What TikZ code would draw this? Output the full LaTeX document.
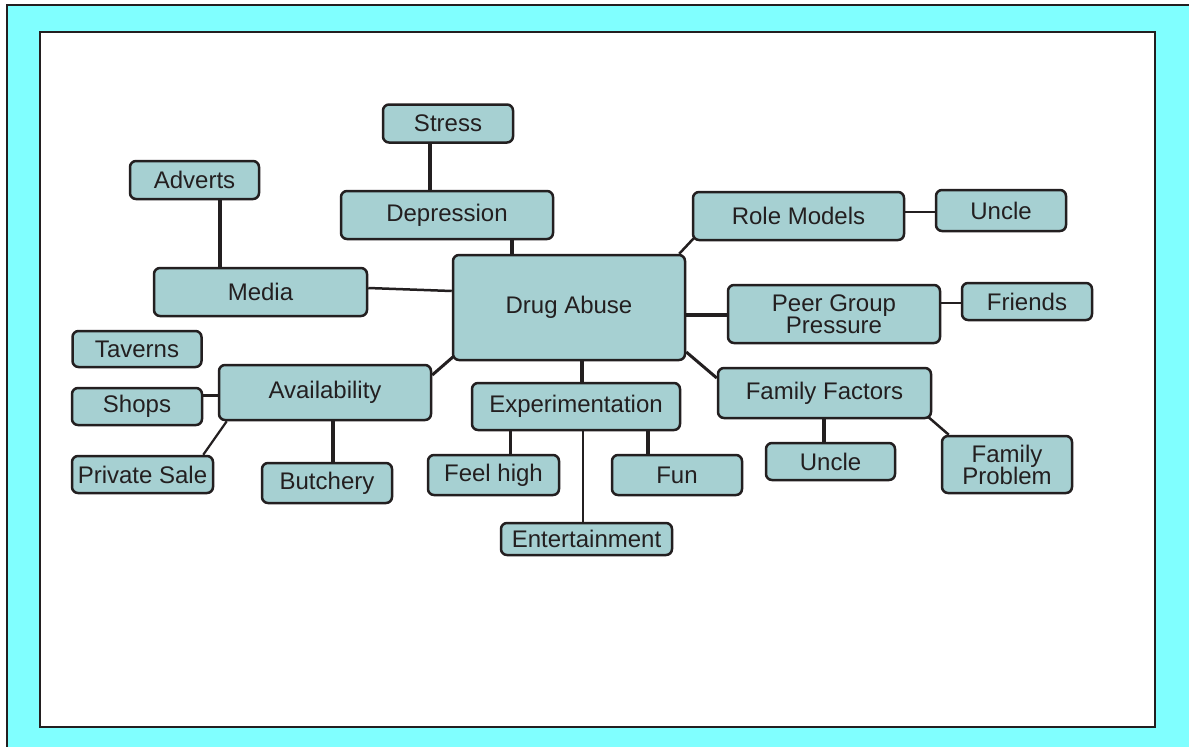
\documentclass[tikz,border=0pt]{standalone}
\usepackage{fontspec}
\setmainfont{Liberation Sans}
\pgfdeclarelayer{frame}
\pgfdeclarelayer{edges}
\pgfsetlayers{frame,edges,main}

\definecolor{boxfill}{RGB}{166,208,210}
\definecolor{ink}{RGB}{35,31,32}
\definecolor{sky}{RGB}{128,255,255}

\tikzset{
  concept/.style={draw=ink, fill=boxfill, line width=2.5pt, rounded corners=6pt,
    inner sep=0pt, text=ink, align=center, font=\fontsize{24}{23}\selectfont},
  link/.style={draw=ink, line width=2.5pt},
  boldlink/.style={draw=ink, line width=4.6pt},
}

\begin{document}
\begin{tikzpicture}[x=1pt,y=-1pt]
\useasboundingbox (0,0) rectangle (1189,747);

% page frame
\begin{pgfonlayer}{frame}
  \fill[white] (0,0) rectangle (1189,747);
  \draw[ink, line width=1.5pt, fill=sky] (7,5) rectangle (1210,770);
  \draw[ink, line width=2pt, fill=white] (40,32) rectangle (1155,727);
\end{pgfonlayer}

% concepts
\node[concept, minimum width=232, minimum height=105] (drug) at (569,307.5) {Drug Abuse};
\node[concept, minimum width=130, minimum height=38] (stress) at (448,123.5) {Stress};
\node[concept, minimum width=212, minimum height=48] (depression) at (447,215) {Depression};
\node[concept, minimum width=129, minimum height=38] (adverts) at (194.5,180) {Adverts};
\node[concept, minimum width=213, minimum height=48] (media) at (260.5,292) {Media};
\node[concept, minimum width=129, minimum height=36] (taverns) at (137,349) {Taverns};
\node[concept, minimum width=130, minimum height=37] (shops) at (137,406.5) {Shops};
\node[concept, minimum width=212, minimum height=55] (avail) at (325,392.5) {Availability};
\node[concept, minimum width=141, minimum height=37] (private) at (142.5,474.5) {Private Sale};
\node[concept, minimum width=130, minimum height=40] (butchery) at (327,483) {Butchery};
\node[concept, minimum width=208, minimum height=47] (exper) at (576,406.5) {Experimentation};
\node[concept, minimum width=131, minimum height=40] (feelhigh) at (493.5,475) {Feel high};
\node[concept, minimum width=130, minimum height=40] (fun) at (677,475) {Fun};
\node[concept, minimum width=171, minimum height=32] (entertain) at (586.5,539) {Entertainment};
\node[concept, minimum width=211, minimum height=48] (role) at (798.5,216) {Role Models};
\node[concept, minimum width=130, minimum height=41] (uncleA) at (1001,210.5) {Uncle};
\node[concept, minimum width=212, minimum height=58] (peer) at (834,314) {Peer Group\\[-1pt]Pressure};
\node[concept, minimum width=130, minimum height=37] (friends) at (1027,301.5) {Friends};
\node[concept, minimum width=213, minimum height=50] (family) at (824.5,393) {Family Factors};
\node[concept, minimum width=129, minimum height=37] (uncleB) at (830.5,461.5) {Uncle};
\node[concept, minimum width=130, minimum height=57] (famprob) at (1007,464.5) {Family\\[-1pt]Problem};

% connectors
\begin{pgfonlayer}{edges}
  \draw[boldlink] ([xshift=-18pt]stress.south) -- ([xshift=-18pt]stress.south |- depression.north);
  \draw[boldlink] ([xshift=65pt]depression.south) -- ([xshift=65pt]depression.south |- drug.north);
  \draw[boldlink] ([xshift=25.5pt]adverts.south) -- ([xshift=25.5pt]adverts.south |- media.north);
  \draw[link] ([yshift=4pt]media.east) -- ([yshift=16.5pt]drug.west);
  \draw[link, line width=3pt] ([yshift=17.5pt]avail.east) -- ([xshift=2pt,yshift=5pt]drug.south west);
  \draw[link, line width=3pt] ([yshift=11.5pt]shops.east) -- ([yshift=11.5pt]shops.east -| avail.west);
  \draw[link, line width=2.2pt] ([xshift=-11pt]private.north east) -- ([xshift=9pt]avail.south west);
  \draw[boldlink] ([xshift=6pt]butchery.north) -- ([xshift=6pt]butchery.north |- avail.south);
  \draw[boldlink] ([xshift=13pt]drug.south) -- ([xshift=13pt]drug.south |- exper.north);
  \draw[link, line width=3pt] ([xshift=16.5pt]feelhigh.north) -- ([xshift=16.5pt]feelhigh.north |- exper.south);
  \draw[boldlink] ([xshift=-29pt]fun.north) -- ([xshift=-29pt]fun.north |- exper.south);
  \draw[link] ([xshift=-3.5pt]entertain.north) -- ([xshift=-3.5pt]entertain.north |- exper.south);
  \draw[link] ([yshift=4pt]role.east) -- ([yshift=4pt]role.east -| uncleA.west);
  \draw[link] ([xshift=-7pt]drug.north east) -- ([xshift=2pt,yshift=3pt]role.south west);
  \draw[boldlink] ([yshift=-1pt]peer.west) -- ([yshift=-1pt]peer.west -| drug.east);
  \draw[link] ([yshift=-1.5pt]friends.west) -- ([yshift=-1.5pt]friends.west -| peer.east);
  \draw[link, line width=3pt] ([yshift=-44.5pt]drug.east) -- ([yshift=15pt]family.west);
  \draw[boldlink] ([xshift=-6.5pt]uncleB.north) -- ([xshift=-6.5pt]uncleB.north |- family.south);
  \draw[link] ([xshift=-6pt,yshift=4pt]family.south east) -- ([xshift=8pt]famprob.north west);
\end{pgfonlayer}
\end{tikzpicture}
\end{document}
